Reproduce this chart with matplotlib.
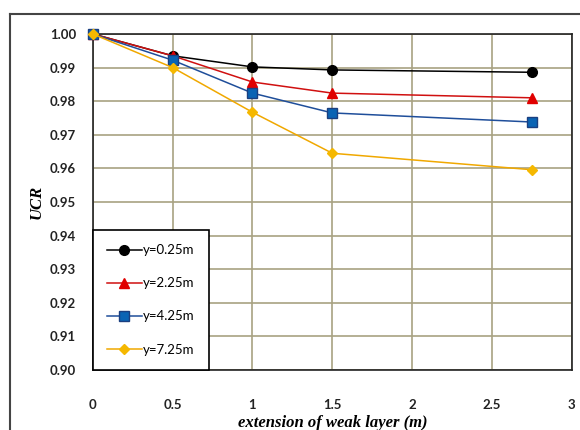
import matplotlib
matplotlib.use("Agg")
import matplotlib.pyplot as plt
from matplotlib.lines import Line2D

x = [0, 0.5, 1, 1.5, 2.75]
y025 = [1.000, 0.9935, 0.9902, 0.9893, 0.9886]
y225 = [1.000, 0.9935, 0.9857, 0.9824, 0.9810]
y425 = [1.000, 0.9922, 0.9824, 0.9765, 0.9738]
y725 = [1.000, 0.9900, 0.9767, 0.9645, 0.9596]
labels = ["y=0.25m", "y=2.25m", "y=4.25m", "y=7.25m"]
xticks = [0, 0.5, 1, 1.5, 2, 2.5, 3]
yticks = [0.90, 0.91, 0.92, 0.93, 0.94, 0.95, 0.96, 0.97, 0.98, 0.99, 1.00]

fig = plt.figure(figsize=(5.8, 4.3), dpi=100)
ax = fig.add_axes([0.160, 0.1395, 0.826, 0.7815])

# outer frame
fig.add_artist(Line2D([10/580, 10/580], [0, 1 - 14/430], transform=fig.transFigure, color="#444444", lw=1.5))
fig.add_artist(Line2D([10/580, 1], [1 - 14/430, 1 - 14/430], transform=fig.transFigure, color="#444444", lw=1.5))

styles = [
    dict(color="black", marker="o", ms=7, mfc="black", mec="black"),
    dict(color="#d01010", marker="^", ms=7, mfc="#e00000", mec="#e00000"),
    dict(color="#1f4e9a", marker="s", ms=7, mfc="#0a64b4", mec="#1a3f80"),
    dict(color="#f0a800", marker="D", ms=5.5, mfc="#f5b800", mec="#f5b800"),
]
for ys, lab, st in zip([y025, y225, y425, y725], labels, styles):
    ax.plot(x, ys, lw=1.1, label=lab, zorder=3, clip_on=False, **st)

ax.set_xlim(0, 3)
ax.set_ylim(0.90, 1.00)
ax.set_xticks(xticks)
ax.set_xticklabels([f"{t:g}" for t in xticks])
ax.set_yticks(yticks)
ax.set_yticklabels([f"{t:.2f}" for t in yticks])
ax.grid(True, color="#a8a282", lw=1.2)
ax.set_axisbelow(True)
ax.tick_params(axis="y", length=0, pad=12, labelsize=9.5)
ax.tick_params(axis="x", length=0, pad=21, labelsize=9.5)
for lab in ax.get_xticklabels() + ax.get_yticklabels():
    lab.set_fontfamily("Lato")
    lab.set_fontweight("bold")
    lab.set_color("#222222")
for sp in ax.spines.values():
    sp.set_color("#222222")
    sp.set_linewidth(1.2)

ax.set_xlabel("extension of weak layer (m)", family="Liberation Serif", style="italic",
              fontweight="bold", fontsize=12, labelpad=3)
ax.set_ylabel("UCR", family="Liberation Serif", style="italic", fontweight="bold",
              fontsize=12, labelpad=4)

leg = ax.legend(loc="lower left", bbox_to_anchor=(0, 0), frameon=True, fancybox=False,
                edgecolor="black", framealpha=1, borderpad=1.1, labelspacing=1.6,
                handlelength=2.6, handletextpad=0.1, borderaxespad=0,
                prop=dict(family="Lato", size=9.5))
leg.get_frame().set_linewidth(1.2)

fig.savefig("out.png", dpi=100)
